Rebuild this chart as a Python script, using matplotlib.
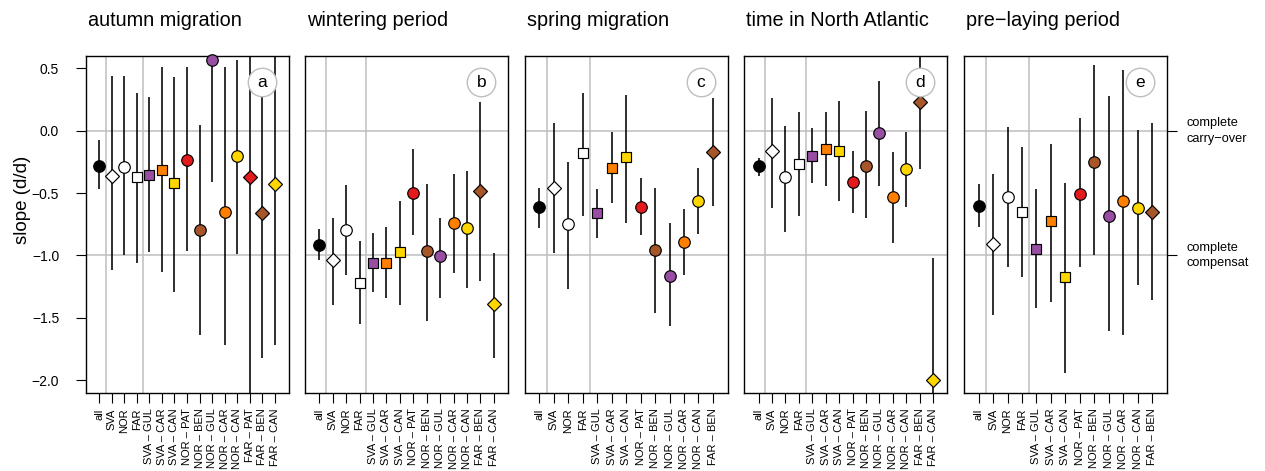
import matplotlib
matplotlib.use('Agg')
import matplotlib.pyplot as plt
from matplotlib.transforms import Bbox, TransformedBbox

plt.rcParams['font.family'] = ['Liberation Sans', 'DejaVu Sans']

# ---------------- data ----------------
panel_titles = ["autumn migration", "wintering period", "spring migration",
                "time in North Atlantic", "pre\u2212laying period"]
panel_letters = ["a", "b", "c", "d", "e"]

cats_a = ["all", "SVA", "NOR", "FAR", "SVA \u2013 GUL", "SVA \u2013 CAR", "SVA \u2013 CAN",
          "NOR \u2013 PAT", "NOR \u2013 BEN", "NOR \u2013 GUL", "NOR \u2013 CAR", "NOR \u2013 CAN",
          "FAR \u2013 PAT", "FAR \u2013 BEN", "FAR \u2013 CAN"]
est_a = [-0.28, -0.36, -0.29, -0.37, -0.355, -0.317, -0.42, -0.235, -0.80, 0.57, -0.65, -0.20, -0.37, -0.66, -0.43]
low_a = [-0.47, -1.12, -1.00, -1.06, -0.97, -1.13, -1.29, -0.965, -1.64, -0.41, -1.72, -0.99, -2.50, -1.82, -1.715]
upp_a = [-0.07, 0.44, 0.44, 0.30, 0.27, 0.51, 0.43, 0.51, 0.045, 0.90, 0.51, 0.57, 1.00, 0.45, 0.80]

cats_b = ["all", "SVA", "NOR", "FAR", "SVA \u2013 GUL", "SVA \u2013 CAR", "SVA \u2013 CAN",
          "NOR \u2013 PAT", "NOR \u2013 BEN", "NOR \u2013 GUL", "NOR \u2013 CAR", "NOR \u2013 CAN",
          "FAR \u2013 BEN", "FAR \u2013 CAN"]
est_b = [-0.92, -1.04, -0.80, -1.22, -1.06, -1.06, -0.97, -0.50, -0.965, -1.005, -0.74, -0.78, -0.48, -1.39]
low_b = [-1.04, -1.40, -1.155, -1.55, -1.29, -1.34, -1.40, -0.835, -1.53, -1.34, -1.14, -1.26, -1.205, -1.82]
upp_b = [-0.79, -0.70, -0.435, -0.885, -0.82, -0.77, -0.56, -0.15, -0.43, -0.70, -0.35, -0.32, 0.23, -0.98]

cats_c = ["all", "SVA", "NOR", "FAR", "SVA \u2013 GUL", "SVA \u2013 CAR", "SVA \u2013 CAN",
          "NOR \u2013 PAT", "NOR \u2013 BEN", "NOR \u2013 GUL", "NOR \u2013 CAR", "NOR \u2013 CAN",
          "FAR \u2013 BEN"]
est_c = [-0.61, -0.46, -0.75, -0.18, -0.66, -0.30, -0.21, -0.61, -0.96, -1.165, -0.89, -0.56, -0.17]
low_c = [-0.78, -0.98, -1.27, -0.68, -0.86, -0.58, -0.74, -0.84, -1.46, -1.57, -1.16, -0.83, -0.60]
upp_c = [-0.46, 0.06, -0.25, 0.30, -0.47, -0.01, 0.29, -0.38, -0.46, -0.74, -0.63, -0.30, 0.26]

cats_d = ["all", "SVA", "NOR", "FAR", "SVA \u2013 GUL", "SVA \u2013 CAR", "SVA \u2013 CAN",
          "NOR \u2013 PAT", "NOR \u2013 BEN", "NOR \u2013 GUL", "NOR \u2013 CAR", "NOR \u2013 CAN",
          "FAR \u2013 BEN", "FAR \u2013 CAN"]
est_d = [-0.28, -0.16, -0.37, -0.27, -0.20, -0.145, -0.16, -0.41, -0.28, -0.02, -0.53, -0.31, 0.23, -2.00]
low_d = [-0.36, -0.62, -0.81, -0.685, -0.42, -0.44, -0.565, -0.66, -0.70, -0.445, -0.90, -0.61, -0.31, -2.30]
upp_d = [-0.22, 0.26, 0.04, 0.15, 0.02, 0.15, 0.24, -0.165, 0.155, 0.40, -0.17, -0.01, 1.00, -1.02]

cats_e = ["all", "SVA", "NOR", "FAR", "SVA \u2013 GUL", "SVA \u2013 CAR", "SVA \u2013 CAN",
          "NOR \u2013 PAT", "NOR \u2013 BEN", "NOR \u2013 GUL", "NOR \u2013 CAR", "NOR \u2013 CAN",
          "FAR \u2013 BEN"]
est_e = [-0.60, -0.91, -0.53, -0.65, -0.95, -0.725, -1.17, -0.51, -0.25, -0.68, -0.56, -0.62, -0.65]
low_e = [-0.77, -1.48, -1.09, -1.17, -1.42, -1.37, -1.94, -1.09, -1.00, -1.61, -1.64, -1.24, -1.355]
upp_e = [-0.43, -0.35, 0.03, -0.13, -0.47, -0.11, -0.42, 0.10, 0.525, 0.28, 0.49, 0.01, 0.06]

panels = [(cats_a, est_a, low_a, upp_a), (cats_b, est_b, low_b, upp_b),
          (cats_c, est_c, low_c, upp_c), (cats_d, est_d, low_d, upp_d),
          (cats_e, est_e, low_e, upp_e)]

# ---------------- styles ----------------
PURPLE, ORANGE, YELLOW, RED, BROWN = "#984EA3", "#FF7F00", "#FFD700", "#E41A1C", "#A65628"
style = {
    "all": ("o", "black"), "SVA": ("D", "white"), "NOR": ("o", "white"), "FAR": ("s", "white"),
    "SVA \u2013 GUL": ("s", PURPLE), "SVA \u2013 CAR": ("s", ORANGE), "SVA \u2013 CAN": ("s", YELLOW),
    "NOR \u2013 PAT": ("o", RED), "NOR \u2013 BEN": ("o", BROWN), "NOR \u2013 GUL": ("o", PURPLE),
    "NOR \u2013 CAR": ("o", ORANGE), "NOR \u2013 CAN": ("o", YELLOW),
    "FAR \u2013 PAT": ("D", RED), "FAR \u2013 BEN": ("D", BROWN), "FAR \u2013 CAN": ("D", YELLOW),
}
msize = {"o": 8.3, "s": 7.2, "D": 6.8}
GRID = "#BEBEBE"

W, H = 1265, 471
fig = plt.figure(figsize=(W / 100, H / 100), dpi=100)

lefts = [85.5, 305.1, 524.7, 744.3, 963.9]
pw = 203.0
top, bottom = 56.0, 392.5
ph = bottom - top

for i, (cats, est, low, upp) in enumerate(panels):
    ax = fig.add_axes([lefts[i] / W, (H - bottom) / H, pw / W, ph / H])
    n = len(cats)
    xs = list(range(1, n + 1))
    ax.set_xlim(0.5 - 0.04 * n, n + 0.5 + 0.04 * n)
    ax.set_ylim(-2.1, 0.6)
    for yv in (0, -1):
        ax.axhline(yv, color=GRID, lw=1.1, zorder=1)
    for xv in (1.5, 4.5):
        ax.axvline(xv, color=GRID, lw=1.1, zorder=1)
    ax.vlines(xs, low, upp, color="black", lw=1.15, zorder=2)
    for x, c, e in zip(xs, cats, est):
        m, col = style[c]
        ax.plot([x], [e], marker=m, ms=msize[m], mfc=col, mec="black", mew=0.85,
                linestyle="none", zorder=4, clip_on=False)
    ax.set_xticks(xs)
    ax.set_xticklabels(cats, rotation=90, fontsize=8.0)
    ax.tick_params(axis="x", length=7, width=0.8, pad=4.5)
    if i == 0:
        ax.set_yticks([0.5, 0.0, -0.5, -1.0, -1.5, -2.0])
        ax.set_yticklabels(["0.5", "0.0", "\u22120.5", "\u22121.0", "\u22121.5", "\u22122.0"],
                           fontsize=10)
        ax.tick_params(axis="y", length=7, width=0.8, pad=12)
        ax.set_ylabel("slope (d/d)", fontsize=13.5)
        ax.yaxis.set_label_coords((31 - lefts[0]) / pw, 1 - (200 - top) / ph)
    else:
        ax.set_yticks([])
    if i == 4:
        ax.set_yticks([0.0, -1.0])
        ax.tick_params(axis="y", right=True, left=False, labelleft=False, labelright=False,
                       length=7, width=0.8)
        for yv, txt in ((0.0, "complete\ncarry\u2212over"), (-1.0, "complete\ncompensation")):
            t = ax.text(1 + 20 / pw, yv, txt, transform=ax.get_yaxis_transform(),
                        ha="left", va="center", fontsize=9.2, linespacing=1.4, clip_on=True)
            t.set_clip_box(TransformedBbox(Bbox([[0, 0], [1248.5 / W, 1]]), fig.transFigure))
    for sp in ax.spines.values():
        sp.set_linewidth(1.0)
        sp.set_color("black")
    # panel letter in circle
    cx = 1 - 26.8 / pw
    cy = 1 - 26.3 / ph
    ax.plot([cx], [cy], marker="o", ms=20.5, mfc="white", mec=GRID, mew=1.0,
            transform=ax.transAxes, zorder=6, clip_on=False)
    ax.text(cx, cy, panel_letters[i], transform=ax.transAxes, ha="center", va="center",
            fontsize=12.5, zorder=7)
    ax.text(2 / pw, 1 + 36 / ph, panel_titles[i], transform=ax.transAxes,
            ha="left", va="center", fontsize=14.3)

fig.savefig("out.png", dpi=100)
